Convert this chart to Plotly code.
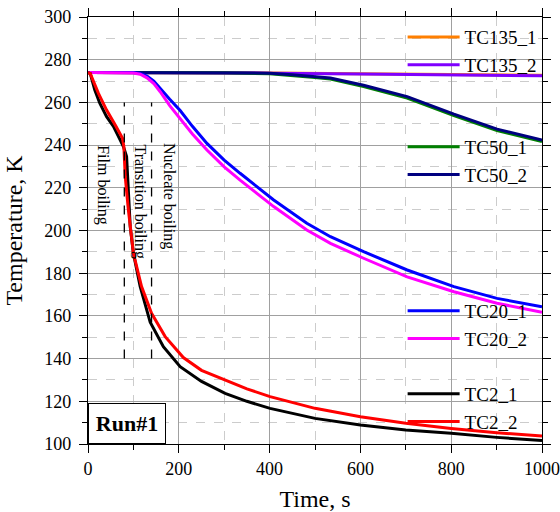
import plotly.graph_objects as go

# ---------------- data ----------------
t_tc135 = [0, 200, 400, 600, 800, 1000]
tc135_1 = [274, 274, 273.8, 273.4, 273.0, 272.7]
tc135_2 = [274, 273.9, 273.7, 273.3, 272.9, 272.5]

t_tc50 = [0, 200, 300, 400, 450, 500, 534, 607, 703, 806, 901, 1000]
tc50_1 = [274, 274, 273.9, 273.4, 272.6, 271.7, 270.9, 267.4, 262.0, 253.8, 246.8, 241.7]
tc50_2 = [274, 274, 274, 273.7, 273.0, 272.2, 271.4, 268.0, 262.7, 254.5, 247.5, 242.4]

t_tc20 = [0, 100, 115, 130, 145, 159, 180, 203, 230, 262, 300, 335, 409, 482, 534, 607, 703, 806, 901, 1000]
tc20_1 = [274, 274, 273.6, 272.3, 270.0, 266.8, 261.5, 256.2, 248.8, 240.8, 233.0, 226.8, 214.3, 203.4, 197.1, 190.1, 181.5, 173.7, 168.2, 164.3]
tc20_2 = [274, 273.8, 273.2, 271.5, 268.8, 265.0, 258.5, 252.5, 245.2, 237.7, 229.8, 223.6, 211.2, 200.2, 194.0, 187.0, 178.3, 171.3, 165.9, 161.7]

t_tc2_1 = [0, 5, 15, 26, 41, 56, 71, 78, 85, 89, 93, 100, 115, 137, 166, 203, 250, 302, 350, 401, 450, 500, 600, 700, 800, 900, 1000]
tc2_1 = [274, 273.5, 265.8, 259.6, 253.3, 248.8, 242.4, 239.3, 234.6, 217.4, 201.8, 189.3, 173.7, 157.0, 145.6, 136.2, 129.3, 123.7, 120.0, 116.7, 114.2, 112.0, 108.9, 106.6, 105.0, 103.1, 101.6]

t_tc2_2 = [0, 5, 23, 41, 60, 76, 79, 82, 89, 100, 118, 140, 170, 210, 250, 302, 350, 401, 450, 500, 600, 700, 800, 900, 1000]
tc2_2 = [274, 273.5, 264.2, 256.4, 249.4, 243.2, 239.3, 225.2, 209.6, 189.3, 173.7, 161.2, 150.3, 140.5, 134.5, 130.0, 125.8, 122.2, 119.3, 116.7, 112.8, 109.7, 107.3, 105.3, 103.7]

regime_bounds = [80, 140]          # s, dashed lines
regime_T = [140, 260]              # K, extent of dashed lines
regime_labels = ["Film boiling", "Transition boiling", "Nucleate boiling"]
regime_label_pos = [(34, 221), (115, 213.5), (177, 216)]

series = [
    ("TC135_1", t_tc135, tc135_1, "#FF7F00", "legend"),
    ("TC135_2", t_tc135, tc135_2, "#7F00FF", "legend"),
    ("TC50_1", t_tc50, tc50_1, "#008000", "legend2"),
    ("TC50_2", t_tc50, tc50_2, "#000080", "legend2"),
    ("TC20_1", t_tc20, tc20_1, "#0000FF", "legend3"),
    ("TC20_2", t_tc20, tc20_2, "#FF00FF", "legend3"),
    ("TC2_1", t_tc2_1, tc2_1, "#000000", "legend4"),
    ("TC2_2", t_tc2_2, tc2_2, "#FF0000", "legend4"),
]

FONT = "Liberation Serif"

fig = go.Figure()
for name, t, v, c, lg in series:
    fig.add_trace(go.Scatter(x=t, y=v, name=name, mode="lines",
                             line=dict(color=c, width=3), legend=lg))

# dashed regime boundaries
for xb in regime_bounds:
    fig.add_shape(type="line", xref="x", yref="y", x0=xb, x1=xb,
                  y0=regime_T[0], y1=regime_T[1],
                  line=dict(color="black", width=1.3, dash="dash"))

for lab, (xp, yp) in zip(regime_labels, regime_label_pos):
    fig.add_annotation(x=xp, y=yp, xref="x", yref="y", text=lab, textangle=90,
                       showarrow=False, font=dict(family=FONT, size=16, color="black"))

fig.add_annotation(x=0, y=0, xref="paper", yref="paper", xanchor="left", yanchor="bottom",
                   text="<b>Run#1</b>", showarrow=False, width=74, height=37,
                   bordercolor="black", borderwidth=1, borderpad=1, bgcolor="white",
                   font=dict(family=FONT, size=22, color="black"))

leg_common = dict(bgcolor="rgba(0,0,0,0)", borderwidth=0, x=0.693, xanchor="left",
                  yanchor="middle", itemwidth=52,
                  font=dict(family=FONT, size=19, color="black"))

fig.update_layout(
    width=560, height=512,
    margin=dict(l=88, r=18, t=17, b=68, autoexpand=False),
    paper_bgcolor="white", plot_bgcolor="white",
    font=dict(family=FONT, size=18, color="black"),
    showlegend=True,
    legend=dict(y=0.92, **leg_common),
    legend2=dict(y=0.663, **leg_common),
    legend3=dict(y=0.2787, **leg_common),
    legend4=dict(y=0.0845, **leg_common),
)

axis_common = dict(showline=True, linecolor="black", linewidth=1.2, mirror="ticks",
                   ticks="outside", ticklen=8, tickwidth=1, tickcolor="black",
                   showgrid=True, gridcolor="#a0a0a0", gridwidth=1, zeroline=False,
                   automargin=False,
                   tickfont=dict(family=FONT, size=18, color="black"))

fig.update_xaxes(range=[0, 1000], dtick=200, tick0=0,
                 title=dict(text="Time, s", font=dict(family=FONT, size=24), standoff=13),
                 minor=dict(dtick=100, ticks="outside", ticklen=5, tickcolor="black",
                            showgrid=True, gridcolor="#cccccc", griddash="dash", gridwidth=1),
                 **axis_common)
fig.update_yaxes(range=[100, 300], dtick=20, tick0=100,
                 title=dict(text="Temperature, K", font=dict(family=FONT, size=24), standoff=14),
                 minor=dict(dtick=10, ticks="outside", ticklen=5, tickcolor="black",
                            showgrid=True, gridcolor="#cccccc", griddash="dash", gridwidth=1),
                 ticklabelstandoff=4,
                 **axis_common)

fig.write_html("out.html")
